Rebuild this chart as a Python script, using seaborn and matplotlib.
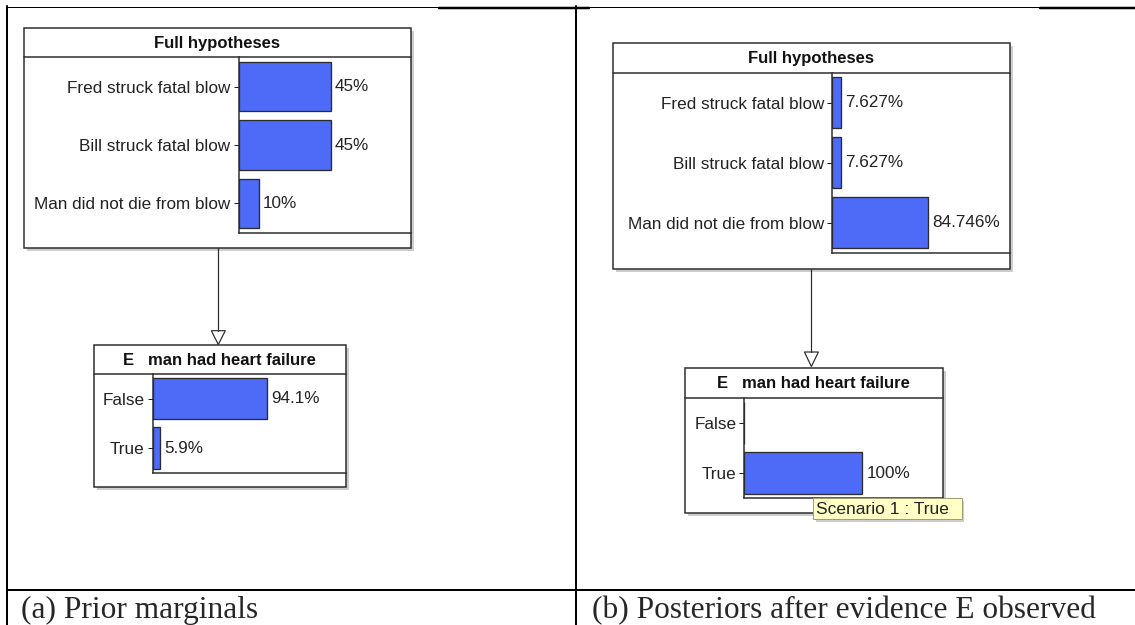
import matplotlib.pyplot as plt
import pandas as pd
import seaborn as sns
from matplotlib.patches import Rectangle, Polygon

# ===== data
hyp_labels = ["Fred struck fatal blow", "Bill struck fatal blow", "Man did not die from blow"]
hyp_prior = [45, 45, 10]
hyp_post = [7.627, 7.627, 84.746]
e_labels = ["False", "True"]
e_prior = [94.1, 5.9]
e_post = [0, 100]
hyp_title = "Full hypotheses"
e_title = "E   man had heart failure"
captions = ["(a) Prior marginals", "(b) Posteriors after evidence E observed"]
tooltip = "Scenario 1 : True"

# ===== look
W, H = 1135, 625
PX = 0.72  # points per pixel at 100 dpi
blue = "#4d6bf6"
edge = "#2b2b2b"
shadow = "#cdcdcd"

sns.set_style("white")
plt.rcParams["font.family"] = ["Liberation Sans", "DejaVu Sans"]

fig = plt.figure(figsize=(W / 100, H / 100), dpi=100)
fig.set_facecolor("white")

base = fig.add_axes([0, 0, 1, 1])
base.set_xlim(0, W)
base.set_ylim(H, 0)
base.axis("off")

# table frame
base.plot([7, 7], [6, H], color="black", lw=2 * PX)
base.plot([576, 576], [6, H], color="black", lw=2 * PX)
base.plot([6, 439], [7, 7], color="black", lw=1 * PX)
base.plot([439, 589], [7.5, 7.5], color="black", lw=2.5 * PX)
base.plot([589, 1040], [7, 7], color="black", lw=1 * PX)
base.plot([1040, W], [7.5, 7.5], color="black", lw=2.5 * PX)
base.plot([7, W], [590, 590], color="black", lw=2 * PX)

base.text(21, 618, captions[0], family="Liberation Serif", fontsize=22.6, va="baseline")
base.text(591.5, 618, captions[1], family="Liberation Serif", fontsize=22.6, va="baseline")


def node(box, sep, plot_left, plot_bottom, title, labels, values, xmax):
    x0, y0, x1, y1 = box
    base.add_patch(Rectangle((x0 + 3, y0 + 3), x1 - x0, y1 - y0, color=shadow, lw=0))
    base.add_patch(Rectangle((x0, y0), x1 - x0, y1 - y0, facecolor="white",
                             edgecolor=edge, lw=1.5 * PX))
    base.plot([x0, x1], [sep, sep], color=edge, lw=1.5 * PX)
    base.text((x0 + x1) / 2, (y0 + sep) / 2 + 1, title, ha="center", va="center",
              weight="bold", fontsize=12, color="#111111")

    ax = fig.add_axes([plot_left / W, 1 - plot_bottom / H,
                       (x1 - plot_left) / W, (plot_bottom - sep) / H])
    df = pd.DataFrame({"state": labels, "pct": values})
    sns.barplot(data=df, x="pct", y="state", orient="h", ax=ax, color=blue,
                saturation=1, width=0.84, edgecolor=edge, linewidth=1.3 * PX)
    ax.set_xlim(0, xmax)
    ax.set_xticks([])
    ax.set_xlabel("")
    ax.set_ylabel("")
    ax.set_facecolor("none")
    ax.spines[["top", "right"]].set_visible(False)
    for s in ["left", "bottom"]:
        ax.spines[s].set_color(edge)
        ax.spines[s].set_linewidth(1.5 * PX)
    ax.tick_params(axis="y", length=5 * PX, width=1 * PX, pad=3 * PX,
                   labelsize=12.3, colors="#222222", left=True)
    ax.bar_label(ax.containers[0], labels=[f"{v:g}%" if v else "" for v in values],
                 padding=4 * PX, fontsize=12.3, color="#222222")
    return ax


node((24, 28.3, 411, 248.3), 57.3, 238.5, 232.7, hyp_title, hyp_labels, hyp_prior, 84)
node((93.5, 345, 346, 486.7), 374, 152.8, 472.7, e_title, e_labels, e_prior, 159)
node((612.5, 43.3, 1009.6, 269.3), 72.7, 832.3, 252.7, hyp_title, hyp_labels, hyp_post, 157)
node((684.6, 368.3, 942.5, 513.3), 397.7, 744.4, 498.3, e_title, e_labels, e_post, 168)

# links between the nodes
for x, y_from, y_head, y_tip in [(218.3, 248.3, 330.7, 344.5), (811.4, 269.3, 352, 366.5)]:
    base.plot([x, x], [y_from, y_head], color=edge, lw=1.2 * PX)
    base.add_patch(Polygon([(x - 7, y_head), (x + 7, y_head), (x, y_tip)], closed=True,
                           facecolor="white", edgecolor=edge, lw=1.2 * PX))

# tooltip on top of everything
top = fig.add_axes([0, 0, 1, 1])
top.set_xlim(0, W)
top.set_ylim(H, 0)
top.axis("off")
top.set_zorder(10)
top.add_patch(Rectangle((816, 501), 148.4, 21, color=shadow, lw=0))
top.add_patch(Rectangle((813.3, 498.3), 148.4, 21, facecolor="#ffffc6",
                        edgecolor="#9e9e70", lw=1 * PX))
top.text(815.5, 509.5, tooltip, va="center", fontsize=12.5, color="#222222")

fig.savefig("out.png", dpi=100)
